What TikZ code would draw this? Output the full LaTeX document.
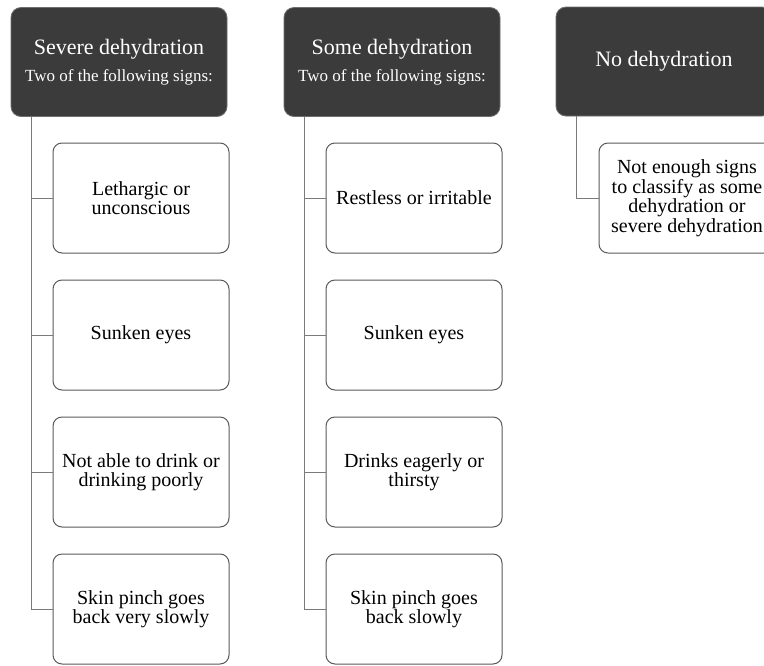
\documentclass[tikz,border=0pt]{standalone}
\usepackage{fontspec}
\setmainfont{Liberation Serif}
\definecolor{hdrfill}{HTML}{3B3B3B}
\definecolor{hdrline}{HTML}{6E6E6E}
\definecolor{boxline}{HTML}{5A5A5A}
\definecolor{conn}{HTML}{7A7A7A}
\begin{document}
\begin{tikzpicture}[x=1pt,y=-1pt,
  hdr/.style={draw=hdrline, fill=hdrfill, text=white, rounded corners=10pt,
    minimum width=216pt, minimum height=109pt, inner sep=0pt, align=center, line width=0.8pt},
  sign/.style={draw=boxline, fill=white, rounded corners=9pt, line width=1pt,
    minimum width=176pt, minimum height=110pt, inner sep=0pt, align=center,
    font=\fontsize{20}{19.5}\selectfont},
  conn/.style={draw=conn, line width=1pt}]
\clip (0,0) rectangle (764,665);
\fill[white] (0,0) rectangle (764,665);
% headers
\node[hdr] (h1) at (119,62) {{\fontsize{22}{24}\selectfont Severe dehydration}\\[9pt]{\fontsize{17}{19}\selectfont Two of the following signs:}};
\node[hdr] (h2) at (392,62) {{\fontsize{22}{24}\selectfont Some dehydration}\\[9pt]{\fontsize{17}{19}\selectfont Two of the following signs:}};
\node[hdr] (h3) at (664,61.5) {{\fontsize{22}{24}\selectfont No dehydration}};
% column 1
\node[sign] (a1) at (141,198) {Lethargic or\\unconscious};
\node[sign] (a2) at (141,335) {Sunken eyes};
\node[sign] (a3) at (141,472) {Not able to drink or\\drinking poorly};
\node[sign] (a4) at (141,609) {Skin pinch goes\\back very slowly};
% column 2
\node[sign] (b1) at (414,198) {Restless or irritable};
\node[sign] (b2) at (414,335) {Sunken eyes};
\node[sign] (b3) at (414,472) {Drinks eagerly or\\thirsty};
\node[sign] (b4) at (414,609) {Skin pinch goes\\back slowly};
% column 3
\node[sign] (c1) at (687,198) {Not enough signs\\to classify as some\\dehydration or\\severe dehydration};
% connectors
\foreach \n in {a1,a2,a3,a4}{\draw[conn] ([xshift=21pt]h1.south west) |- (\n.west);}
\foreach \n in {b1,b2,b3,b4}{\draw[conn] ([xshift=21pt]h2.south west) |- (\n.west);}
\draw[conn] ([xshift=21pt]h3.south west) |- (c1.west);
\end{tikzpicture}
\end{document}
